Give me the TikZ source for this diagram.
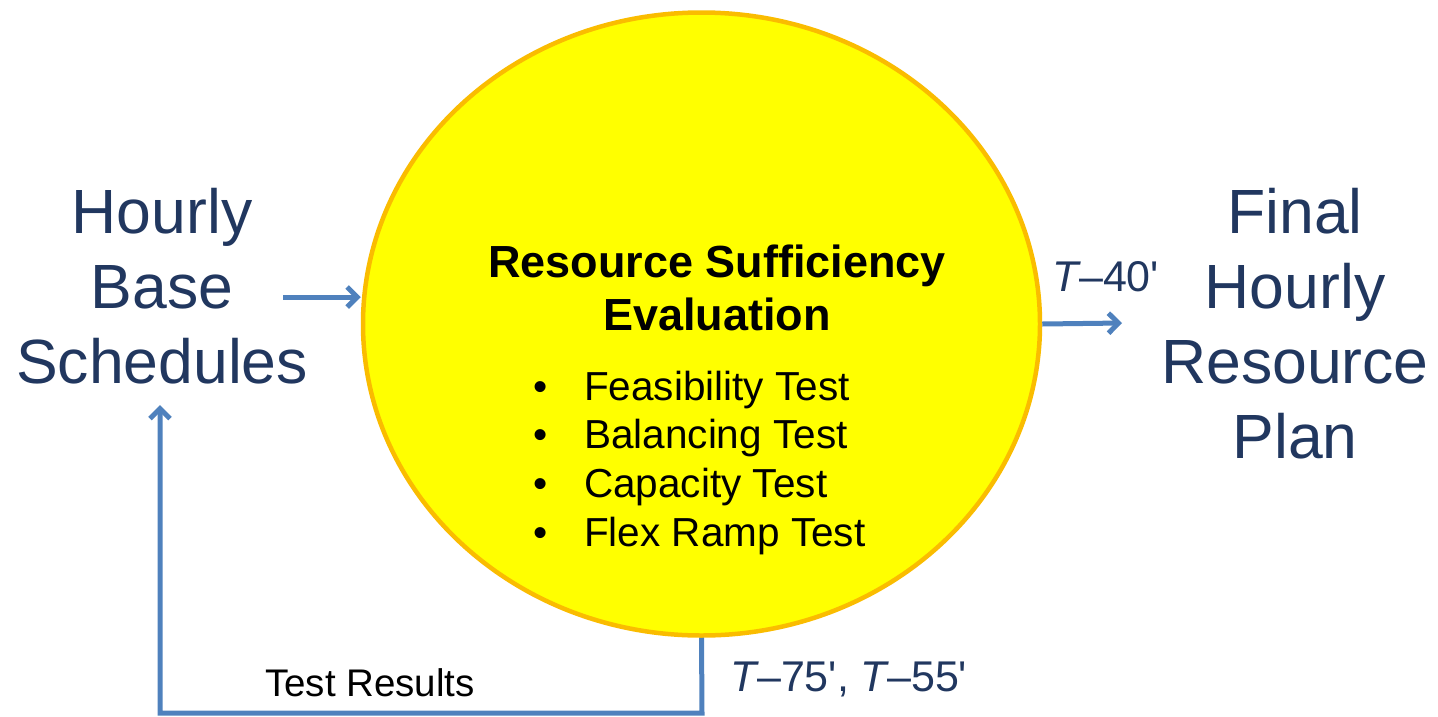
\documentclass[tikz,border=0pt]{standalone}
\usepackage{fontspec}
\newfontfamily\diagfont{Liberation Sans}
\usetikzlibrary{arrows.meta,positioning,shapes.geometric}
\definecolor{rsyellow}{RGB}{255,255,0}
\definecolor{rsorange}{RGB}{250,188,0}
\definecolor{rsblue}{RGB}{79,129,189}
\definecolor{rsnavy}{RGB}{33,55,95}
\tikzset{
    %Define standard arrow tip
    >={Straight Barb[length=10pt,width=20pt]},
    %Define style for the evaluation circle
    evalcircle/.style={
           ellipse,
           draw=rsorange, line width=4.5pt,
           fill=rsyellow,
           minimum width=677pt,
           minimum height=623pt,
           inner sep=0pt},
    %Define style for the big side texts
    sidetext/.style={
           align=center,
           inner sep=0pt,
           text=rsnavy,
           font=\diagfont\fontsize{62.5}{75}\selectfont},
    titletext/.style={
           align=center,
           inner sep=0pt,
           font=\diagfont\bfseries\fontsize{45}{53}\selectfont},
    testitem/.style={
           anchor=base west,
           inner sep=0pt,
           font=\diagfont\fontsize{40.5}{48}\selectfont},
    timetext/.style={
           inner sep=0pt,
           text=rsnavy,
           font=\diagfont\fontsize{43}{50}\selectfont},
    resulttext/.style={
           inner sep=0pt,
           font=\diagfont\fontsize{38.5}{45}\selectfont},
    % Define arrow style
    flow/.style={
           ->,
           draw=rsblue,
           line width=5pt}
}
\begin{document}
\begin{tikzpicture}[x=1pt,y=-1pt]
\useasboundingbox (0,0) rectangle (1438,716);
\node[evalcircle] (rse) at (701.5,324) {};
\node[titletext] (title) at (717,288) {Resource Sufficiency\\Evaluation};
\foreach \t [count=\i] in {Feasibility Test,Balancing Test,Capacity Test,Flex Ramp Test}
  \node[testitem] (test\i) at (533,{400+48.7*(\i-1)}) {\makebox[51pt][l]{•}\t};
\node[sidetext] (base) at (162,286) {Hourly\\Base\\Schedules};
\node[sidetext] (plan) at (1295,324) {Final\\Hourly\\Resource\\Plan};
\node[timetext] (t40) at (1106,277) {\itshape T\upshape –40'};
\node[timetext] (t75) at (849,679) {\itshape T\upshape –75', \itshape T\upshape –55'};
\node[resulttext] (results) at (370,683) {Test Results};
\coordinate (basein) at (283,297);
\coordinate (planin) at (1122,323);
\coordinate (fbcorner) at (702,713);
\coordinate (fbend) at (160,405);
\draw[flow] (basein) -- (basein -| rse.west);
\draw[flow] (rse.east) -- (planin);
\draw[flow] (rse.south) -- (fbcorner) -| (fbend);
\end{tikzpicture}
\end{document}
